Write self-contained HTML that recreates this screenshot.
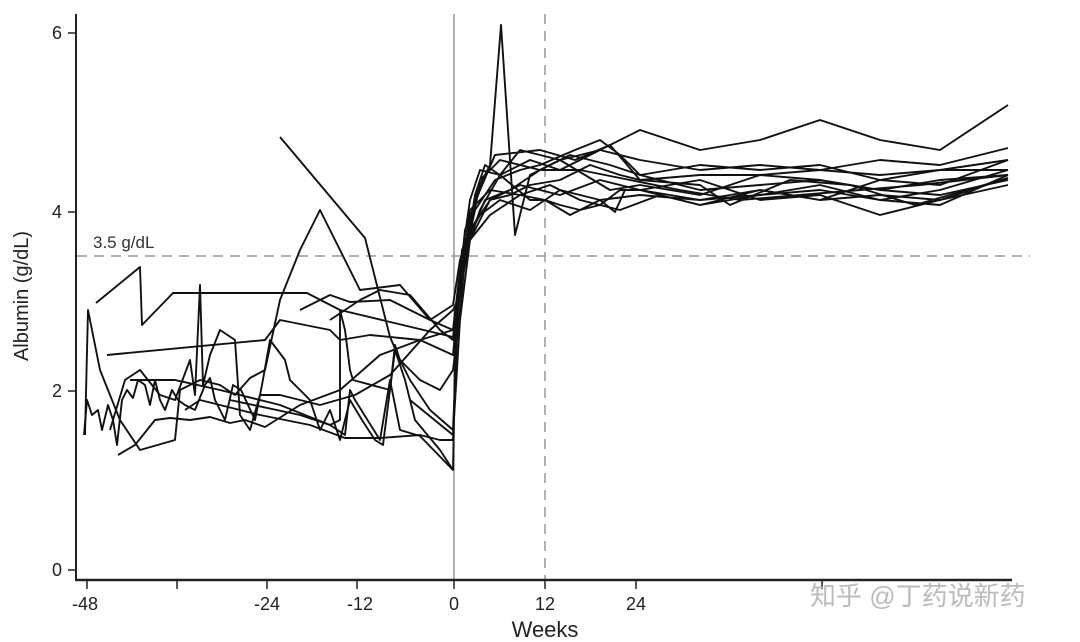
<!DOCTYPE html>
<html><head><meta charset="utf-8"><style>
html,body{margin:0;padding:0;background:#fff;}
svg{display:block;font-family:"Liberation Sans",sans-serif;}
</style></head><body>
<svg width="1080" height="642" viewBox="0 0 1080 642" xmlns="http://www.w3.org/2000/svg">
<rect width="1080" height="642" fill="#fff"/>
<line x1="77" y1="256" x2="1030" y2="256" stroke="#999" stroke-width="1.5" stroke-dasharray="10,7"/>
<line x1="545" y1="14" x2="545" y2="580" stroke="#999" stroke-width="1.5" stroke-dasharray="10,7"/>
<line x1="454" y1="14" x2="454" y2="580" stroke="#888" stroke-width="1.3"/>
<text x="93" y="248" font-size="17" fill="#333">3.5 g/dL</text>
<line x1="76" y1="14" x2="76" y2="581" stroke="#222" stroke-width="2"/>
<line x1="76" y1="580" x2="1012" y2="580" stroke="#222" stroke-width="2.5"/>
<g stroke="#222" stroke-width="1.5">
<line x1="68" y1="33" x2="76" y2="33"/><line x1="68" y1="212" x2="76" y2="212"/>
<line x1="68" y1="391" x2="76" y2="391"/><line x1="68" y1="570" x2="76" y2="570"/>
<line x1="87" y1="580" x2="87" y2="589"/><line x1="177" y1="580" x2="177" y2="589"/>
<line x1="267" y1="580" x2="267" y2="589"/><line x1="357" y1="580" x2="357" y2="589"/>
<line x1="454" y1="580" x2="454" y2="589"/><line x1="545" y1="580" x2="545" y2="589"/>
<line x1="636" y1="580" x2="636" y2="589"/><line x1="822" y1="580" x2="822" y2="589"/>
</g>
<g font-size="18" fill="#222" text-anchor="middle">
<text x="57" y="39">6</text><text x="57" y="218">4</text><text x="57" y="397">2</text><text x="57" y="576">0</text>
<text x="85" y="610">-48</text><text x="267" y="610">-24</text><text x="360" y="610">-12</text>
<text x="454" y="610">0</text><text x="545" y="610">12</text><text x="636" y="610">24</text>
</g>
<text x="545" y="637" font-size="22" text-anchor="middle" fill="#222">Weeks</text>
<text transform="translate(28,296) rotate(-90)" font-size="20" text-anchor="middle" fill="#222">Albumin (g/dL)</text>
<text x="810" y="605" font-size="26" fill="#bbb" font-family="'Liberation Sans','Noto Sans CJK SC',sans-serif">知乎 @丁药说新药</text>
<g fill="none" stroke="#111" stroke-width="1.9" stroke-linejoin="round">
<polyline points="96,303 140,267 142,325 173,293 307,293 340,310 453,337 458,300 470,240 490,200 520,185 560,195 600,180 640,190 700,180 760,200 820,195 880,215 940,200 1008,178"/>
<polyline points="85,435 88,310 100,370 120,420 140,450 175,440 180,390 200,380 220,385 235,395 250,378 265,370 280,300 300,250 320,210 360,290 400,285 430,320 453,330 460,270 470,200 480,170 500,175 520,150 560,160 600,150 640,130 700,150 760,140 820,120 880,140 940,150 1008,105"/>
<polyline points="280,137 365,238 390,337 400,360 420,380 440,390 453,370 458,330 465,260 475,195 485,165 500,175 530,160 560,170 600,150 640,160 700,170 760,165 820,170 880,160 940,165 1008,148"/>
<polyline points="84,435 87,400 92,415 98,410 102,430 108,405 113,420 117,445 122,400 127,390 133,398 138,380 145,385 150,405 155,380 160,400 165,410 172,390 178,400 185,405 195,410 205,385 210,378 215,400 225,420 233,385 241,390 255,420 262,385 270,340 285,360 290,380 310,400 320,430 330,410 340,440 350,400 362,420 375,440 383,445 395,350 405,380 415,420 440,450 453,470"/>
<polyline points="107,355 265,340 280,320 330,330 340,340 370,335 420,340 453,355 460,280 470,220 480,180 500,160 540,170 570,155 610,165 640,175 700,190 760,185 820,180 880,190 940,195 1008,180"/>
<polyline points="118,455 135,445 155,420 170,418 190,420 210,417 230,423 245,420 265,427 300,405 340,390 380,355 420,340 453,330 458,300 468,240 485,200 510,190 540,170 580,170 620,178 680,190 740,200 800,195 860,190 920,185 1008,175"/>
<polyline points="110,430 125,380 140,370 160,395 175,400 190,360 195,395 200,285 203,385 210,355 220,330 235,340 240,415 250,430 260,395 280,395 320,405 355,395 390,375 430,330 453,310 458,300 466,240 480,215 500,200 530,210 560,190 600,200 640,195 700,200 760,195 820,185 880,200 940,190 1008,170"/>
<polyline points="130,380 175,380 220,390 280,405 330,425 340,420 340,310 345,330 350,370 353,380 390,390 395,345 400,360 410,380 430,410 453,430 458,310 470,210 490,190 520,195 550,185 580,200 620,210 660,195 700,205 760,190 820,200 880,195 940,200 1008,185"/>
<polyline points="185,410 200,400 240,410 260,415 310,425 345,438 380,438 420,435 440,440 453,440 458,300 465,230 480,190 495,155 540,150 575,160 610,145 640,180 700,175 760,175 820,170 880,175 940,170 1008,160"/>
<polyline points="230,400 300,415 330,425 345,435 350,390 355,400 380,440 390,380 400,430 420,436 453,470 456,320 462,250 470,230 480,185 490,165 501,25 515,235 530,175 560,160 610,190 640,185 700,195 760,175 820,180 880,190 940,180 1008,175"/>
<polyline points="410,400 453,435 460,320 470,240 490,215 520,195 545,200 570,215 600,200 615,212 625,190 640,190 700,205 760,195 820,190 880,200 940,205 1008,175"/>
<polyline points="300,310 330,295 350,302 390,300 430,320 453,305 460,260 470,230 490,200 510,195 530,185 560,180 590,165 620,175 640,180 700,185 730,205 790,180 850,185 915,205 1008,178"/>
<polyline points="330,320 360,300 380,290 410,295 440,330 453,340 462,270 475,210 495,180 520,170 540,165 575,150 600,140 620,155 640,175 700,165 760,170 820,165 880,180 940,185 1008,160"/>
<polyline points="460,270 465,255 480,210 500,175 530,200 545,200 560,205 580,210 600,205 620,190 640,190 700,200 760,190 820,200 880,180 940,170 1008,170"/>
</g>
</svg>
</body></html>
